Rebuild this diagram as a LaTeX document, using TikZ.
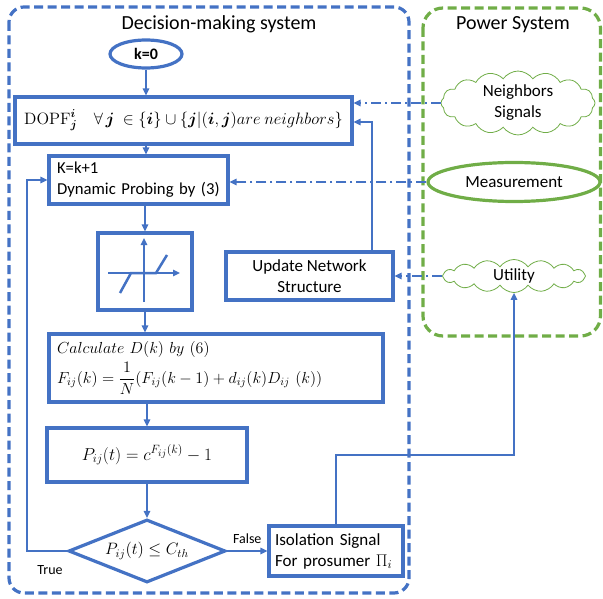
\RequirePackage{fix-cm}
\documentclass[tikz,border=0pt]{standalone}
\usepackage[no-math]{fontspec}
\setmainfont{Carlito}
\usepackage{amsmath,bm}
\usetikzlibrary{shapes.geometric,shapes.symbols,arrows.meta}
\definecolor{bl}{HTML}{4472C4}
\definecolor{gr}{HTML}{70AD47}
\begin{document}
\begin{tikzpicture}[x=1pt,y=-1pt,
 blk/.style={draw=bl,line width=3.2pt,fill=white,inner sep=0pt,font=\fontsize{17}{21}\selectfont},
 conn/.style={draw=bl,line width=1.5pt,-{Triangle[length=7pt,width=6.5pt]}},
 dd/.style={conn,dash pattern=on 10pt off 4pt on 2pt off 4pt},
 cl/.style={cloud,cloud puffs=16,cloud puff arc=110,draw=gr,line width=0.8pt,fill=white,inner sep=0pt,font=\fontsize{17}{21}\selectfont},
 ttl/.style={font=\fontsize{20}{24}\selectfont},
 lbl/.style={font=\fontsize{14}{16}\selectfont}
]
\useasboundingbox (0,0) rectangle (603,599);
% frames
\draw[bl,line width=3.2pt,dash pattern=on 9pt off 4.5pt,rounded corners=15pt] (9,7) rectangle (409,593);
\draw[gr,line width=3.2pt,dash pattern=on 9pt off 4.5pt,rounded corners=20pt] (423,8) rectangle (600.5,336);
\node[ttl] (t1) at (219,24) {Decision-making system};
\node[ttl] (t2) at (513,25) {Power System};
% flowchart nodes
\node[ellipse,draw=bl,line width=3.2pt,minimum width=72pt,minimum height=28pt,inner sep=0pt,font=\bfseries\fontsize{16}{19}\selectfont] (k0) at (146,54) {k=0};
\node[blk,minimum width=337pt,minimum height=47pt,font=\fontsize{16.5}{18}\selectfont] (dopf) at (183.5,120.5)
 {$\mathrm{DOPF}_{\bm j}^{\bm i}\quad \forall\, \bm j\ \in\{\bm i\}\cup\{\bm j|(\bm i,\bm j)are\ neighbors\}$};
\node[blk,minimum width=179pt,minimum height=48pt,text width=163pt,align=left,font=\fontsize{16.7}{21}\selectfont] (kb) at (138.5,180)
 {K=k+1\\Dynamic Probing by (3)};
\node[blk,minimum width=94pt,minimum height=77pt] (sig) at (145,271.5) {};
\node[blk,minimum width=167pt,minimum height=48pt,align=center] (upd) at (309.5,276)
 {Update Network\\Structure};
\node[blk,minimum width=334pt,minimum height=68pt,text width=318pt,align=left,font=\fontsize{16}{18}\selectfont] (calc) at (216,368)
 {$Calculate\ D(k)\ by\ (6)$\\[3pt]
  $F_{ij}(k)=\dfrac{1}{N}(F_{ij}(k-1)+d_{ij}(k)D_{ij}\ (k))$};
\node[blk,minimum width=200pt,minimum height=54pt,font=\fontsize{17.28}{20}\selectfont] (pb) at (147,455)
 {$P_{ij}(t)=c^{F_{ij}(k)}-1$};
\node[diamond,draw=bl,line width=3.2pt,fill=white,aspect=2.5,minimum width=157pt,minimum height=63pt,inner sep=0pt,font=\fontsize{16.5}{18}\selectfont] (dia) at (147,551)
 {$P_{ij}(t)\le C_{th}$};
\node[blk,minimum width=134pt,minimum height=50pt,text width=122pt,align=left] (iso) at (336,551)
 {Isolation Signal\\For prosumer $\Pi_i$};
% power system nodes
\node[cl,minimum width=154pt,minimum height=55pt,aspect=2.8,align=center] (nb) at (518,103) {Neighbors\\Signals};
\node[ellipse,draw=gr,line width=3.2pt,minimum width=172pt,minimum height=39pt,inner sep=0pt,font=\fontsize{17}{20}\selectfont] (meas) at (514,182) {Measurement};
\node[cl,minimum width=143pt,minimum height=33pt,aspect=4.3] (ut) at (514,276) {Utility};
% sigmoid drawing
\draw[bl,line width=1.5pt,-{Triangle[length=7pt,width=6.5pt]}] (108,273) -- (180,273);
\draw[bl,line width=1.5pt,-{Triangle[length=7pt,width=6.5pt]}] (144,302) -- (144,238);
\draw[bl,line width=2.5pt] (120,293) -- (131,273) -- (156,273) -- (167,255);
% connectors
\draw[conn] (k0.south) -- (dopf.north -| k0.south);
\draw[conn] (dopf.south -| k0.south) -- (kb.north -| k0.south);
\draw[conn] (kb.south -| sig.north) -- (sig.north);
\draw[conn] (sig.south) -- (calc.north -| sig.south);
\draw[conn] (calc.south -| pb.north) -- (pb.north);
\draw[conn] (pb.south) -- (dia.north);
\draw[conn] (dia.east) -- node[lbl,above,pos=0.5,yshift=3pt] (fl) {False} (iso.west);
\coordinate (lt) at (27,551);
\draw[conn] (dia.west) -- (lt) -- (lt |- kb.west) -- (kb.west);
\node[lbl] (tr) at (50,570) {True};
\coordinate (uu) at (372,122);
\draw[conn] (upd.north -| uu) -- (uu) -- (uu -| dopf.east);
\coordinate (ii) at (336,455);
\draw[conn] (iso.north -| ii) -- (ii) -- (ii -| ut.south) -- (ut.south);
\draw[dd] (nb.west) -- (nb.west -| dopf.east);
\draw[dd] (meas.west) -- (meas.west -| kb.east);
\draw[dd] (ut.west) -- (ut.west -| upd.east);
\end{tikzpicture}
\end{document}
